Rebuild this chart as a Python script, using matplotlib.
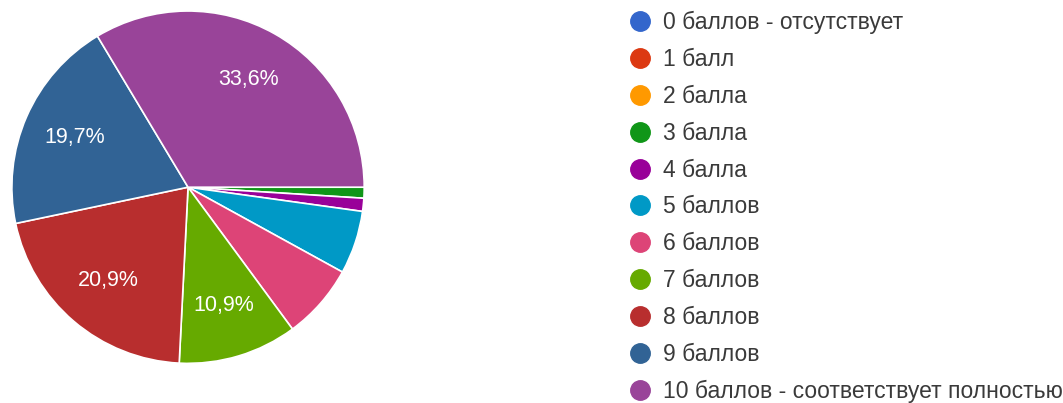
import matplotlib.pyplot as plt
from matplotlib.lines import Line2D

plt.rcParams['font.family'] = ['Liberation Sans', 'DejaVu Sans']

labels = ['0 баллов - отсутствует', '1 балл', '2 балла', '3 балла', '4 балла',
          '5 баллов', '6 баллов', '7 баллов', '8 баллов', '9 баллов',
          '10 баллов - соответствует полностью']
shares = [0, 0, 0, 1.0, 1.2, 5.8, 6.9, 10.9, 20.9, 19.7, 33.6]
colors = ['#3366CC', '#DC3912', '#FF9900', '#109618', '#990099', '#0099C6',
          '#DD4477', '#66AA00', '#B82E2E', '#316395', '#994499']


def pct_label(p):
    # only the big slices get a label, with a decimal comma
    return f'{p:.1f}%'.replace('.', ',') if p >= 10 else ''


fig = plt.figure(figsize=(10.63, 4.03), dpi=100)
ax = fig.add_axes([0.0094, 0.094, 0.335, 0.883])
wedges, texts, autotexts = ax.pie(shares, colors=colors, startangle=0, counterclock=False,
                                  autopct=pct_label, pctdistance=0.7,
                                  wedgeprops=dict(edgecolor='white', linewidth=1.2),
                                  textprops=dict(color='white', fontsize=15.5))
ax.set_xlim(-1.01, 1.01)
ax.set_ylim(-1.01, 1.01)
ax.set_aspect('equal')

handles = [Line2D([], [], marker='o', linestyle='', markersize=14,
                  markerfacecolor=c, markeredgecolor=c) for c in colors]
fig.legend(handles, labels, loc='upper left', bbox_to_anchor=(0.570, 1.024),
           frameon=False, fontsize=16.5, labelspacing=0.605, handletextpad=0.41,
           handlelength=1.2, labelcolor='#3a3a3a')

fig.savefig('out.png', dpi=100)
